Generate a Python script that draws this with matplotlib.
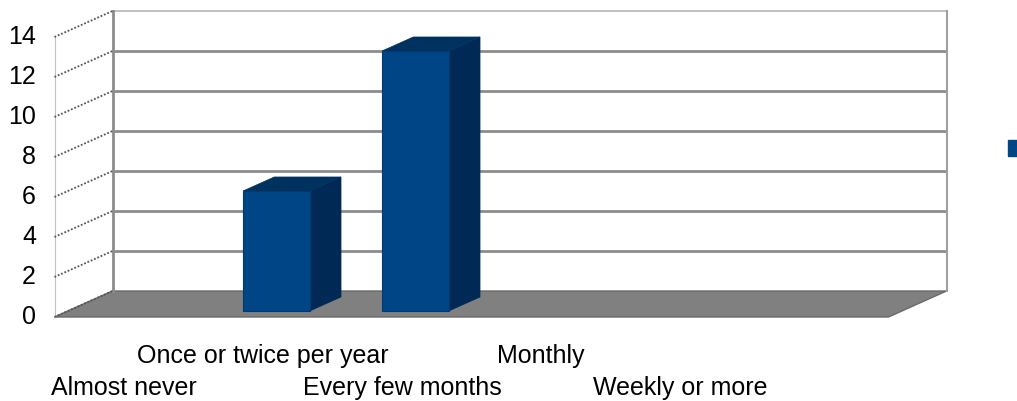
import matplotlib
matplotlib.use("Agg")
import matplotlib.pyplot as plt
from matplotlib.patches import Polygon, Patch

categories = ["Almost never", "Once or twice per year", "Every few months", "Monthly", "Weekly or more"]
values = [0, 6, 13, 0, 0]
y_ticks = [0, 2, 4, 6, 8, 10, 12, 14]

FRONT = "#004586"
SIDE = "#002a55"
TOP = "#00325f"
FLOOR = "#808080"
GRID = "#8c8c8c"

plt.rcParams['font.family'] = ['Liberation Sans', 'DejaVu Sans']

W, H = 1017, 401
fig = plt.figure(figsize=(W / 100, H / 100), dpi=100)
ax = fig.add_axes([0, 0, 1, 1])
ax.axis('off')

# pixel-consistent data window: x in category units (139 px), y in value units (20 px)
ax.set_xlim(-124 / 139, (W - 124) / 139)
ax.set_ylim((317 - H) / 20, 317 / 20)

DX, DY = 58 / 139, 26 / 20   # depth offset (full depth)
XL, XR = -0.5, 5.5            # floor extent
YMAX = 14
D0, D1 = 0.23, 0.77           # bar depth range
BW = 0.48


def P(x, v, d):
    return (x + d * DX, v + d * DY)


# floor
floor = Polygon([P(XL, 0, 0), P(XR, 0, 0), P(XR, 0, 1), P(XL, 0, 1)],
                closed=True, facecolor=FLOOR, edgecolor="#6a6a6a", lw=1.0, zorder=1)
ax.add_patch(floor)

# back wall gridlines
for v in y_ticks[1:-1]:
    a, b = P(XL, v, 1), P(XR, v, 1)
    ax.plot([a[0], b[0]], [a[1], b[1]], color=GRID, lw=2.0, zorder=2, solid_capstyle='butt')
# back wall border
tl, tr = P(XL, YMAX, 1), P(XR, YMAX, 1)
bl, br = P(XL, 0, 1), P(XR, 0, 1)
ax.plot([tl[0], tr[0]], [tl[1], tr[1]], color="#b5b5b5", lw=1.2, zorder=2)
ax.plot([bl[0], tl[0]], [bl[1], tl[1]], color=GRID, lw=2.0, zorder=2)
ax.plot([br[0], tr[0]], [br[1], tr[1]], color="#a0a0a0", lw=1.5, zorder=2)

# left wall: front vertical edge and dotted ticks
fl, ft = P(XL, 0, 0), P(XL, YMAX, 0)
ax.plot([fl[0], ft[0]], [fl[1], ft[1]], color="#c0c0c0", lw=0.8, zorder=2)
for v in y_ticks:
    a, b = P(XL, v, 0), P(XL, v, 1)
    ax.plot([a[0], b[0]], [a[1], b[1]], color="#555555", lw=1.3,
            linestyle=(0, (1, 1)), zorder=2)
    ax.text(-0.633, v, str(v), ha='right', va='center', fontsize=18, color="#000000")

# bars
for i, v in enumerate(values):
    if v <= 0:
        continue
    x0, x1 = i - BW / 2, i + BW / 2
    side = Polygon([P(x1, 0, D0), P(x1, 0, D1), P(x1, v, D1), P(x1, v, D0)],
                   closed=True, facecolor=SIDE, edgecolor=SIDE, lw=0.5, zorder=3)
    top = Polygon([P(x0, v, D0), P(x1, v, D0), P(x1, v, D1), P(x0, v, D1)],
                  closed=True, facecolor=TOP, edgecolor=TOP, lw=0.5, zorder=3)
    front = Polygon([P(x0, 0, D0), P(x1, 0, D0), P(x1, v, D0), P(x0, v, D0)],
                    closed=True, facecolor=FRONT, edgecolor="#003a72", lw=0.8, zorder=4)
    ax.add_patch(side)
    ax.add_patch(top)
    ax.add_patch(front)

# category labels (staggered)
for i, c in enumerate(categories):
    yb = -2.3 if i % 2 == 1 else -3.9
    ax.text(i, yb, c, ha='center', va='baseline', fontsize=18, color="#000000")

# legend (label cut off at the right edge)
ax.legend(handles=[Patch(facecolor=FRONT, edgecolor=FRONT)], labels=[""],
          loc='center left', bbox_to_anchor=(1008 / W, 1 - 150 / H),
          frameon=False, fontsize=18, handlelength=0.55, handleheight=0.6,
          borderpad=0, borderaxespad=0, handletextpad=0.2)

fig.savefig("out.png", dpi=100)
